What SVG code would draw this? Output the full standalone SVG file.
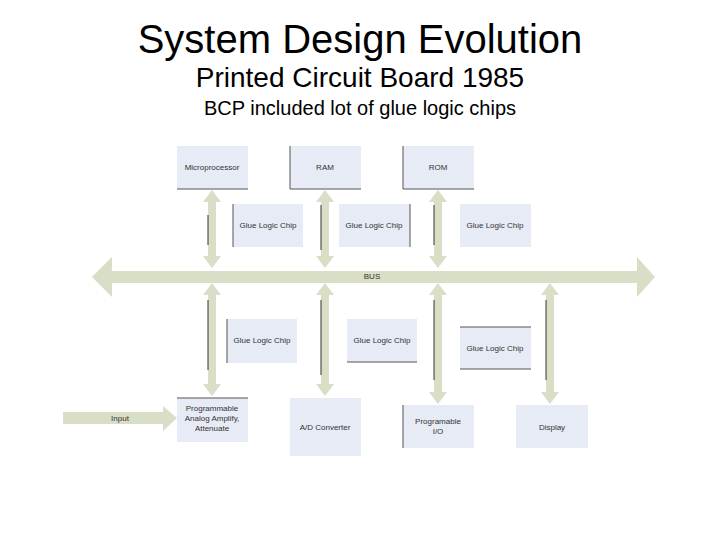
<svg xmlns="http://www.w3.org/2000/svg" width="720" height="540" viewBox="0 0 720 540">
<style>
.t{font-family:"Liberation Sans",Arial,sans-serif;fill:#000;text-anchor:middle}
.box{fill:#e6ebf5}
.edge{stroke:#555;stroke-width:1}
.lbl{font-family:"Liberation Sans",Arial,sans-serif;font-size:8px;fill:#333;text-anchor:middle}
.arr{fill:#d9dec6}
.sh{stroke:#333;stroke-width:1}
</style>
<rect width="720" height="540" fill="#fff"/>
<text class="t" x="360" y="53" font-size="40">System Design Evolution</text>
<text class="t" x="360" y="87" font-size="28">Printed Circuit Board 1985</text>
<text class="t" x="360" y="115" font-size="20">BCP included lot of glue logic chips</text>

<g id="connectors">
  <polygon id="bus" class="arr" points="92,277 112,257 112,271 637,271 637,257 655,277 637,297 637,283 112,283 112,297"/>
  <text class="lbl" x="372" y="279">BUS</text>
  <polygon class="arr" points="212,190 221,202 216,202 216,256 221,256 212,268 203,256 208,256 208,202 203,202"/>
  <line class="sh" x1="208" y1="215" x2="208" y2="245"/>
  <polygon class="arr" points="325,190 334,202 329,202 329,256 334,256 325,268 316,256 321,256 321,202 316,202"/>
  <line class="sh" x1="321" y1="205" x2="321" y2="250"/>
  <polygon class="arr" points="438,190 447,202 442,202 442,256 447,256 438,268 429,256 434,256 434,202 429,202"/>
  <line class="sh" x1="434" y1="205" x2="434" y2="245"/>
  <polygon class="arr" points="212,283 221,295 216,295 216,384 221,384 212,396 203,384 208,384 208,295 203,295"/>
  <line class="sh" x1="208" y1="300" x2="208" y2="370"/>
  <polygon class="arr" points="325,283 334,295 329,295 329,384 334,384 325,396 316,384 321,384 321,295 316,295"/>
  <line class="sh" x1="321" y1="300" x2="321" y2="375"/>
  <polygon class="arr" points="438,283 447,295 442,295 442,392 447,392 438,404 429,392 434,392 434,295 429,295"/>
  <line class="sh" x1="434" y1="300" x2="434" y2="380"/>
  <polygon class="arr" points="550,283 559,295 554,295 554,392 559,392 550,404 541,392 546,392 546,295 541,295"/>
  <line class="sh" x1="546" y1="300" x2="546" y2="380"/>
  <polygon class="arr" points="63,412 163,412 163,406 177,418 163,431 163,424 63,424"/>
  <text class="lbl" x="120" y="421">Input</text>
</g>

<g id="microprocessor"><rect class="box" x="177" y="146" width="71" height="43"/><line class="edge" x1="177" y1="189" x2="248" y2="189"/><text class="lbl" x="212" y="170">Microprocessor</text></g>
<g id="ram"><rect class="box" x="290" y="146" width="71" height="43"/><line class="edge" x1="290" y1="146" x2="290" y2="189"/><line class="edge" x1="290" y1="189" x2="361" y2="189"/><text class="lbl" x="325" y="170">RAM</text></g>
<g id="rom"><rect class="box" x="403" y="146" width="71" height="43"/><line class="edge" x1="403" y1="146" x2="403" y2="189"/><line class="edge" x1="403" y1="189" x2="474" y2="189"/><text class="lbl" x="438" y="170">ROM</text></g>

<g id="glue1"><rect class="box" x="233" y="204" width="70" height="43"/><line class="edge" x1="233" y1="204" x2="233" y2="247"/><text class="lbl" x="268" y="228">Glue Logic Chip</text></g>
<g id="glue2"><rect class="box" x="339" y="204" width="71" height="43"/><line class="edge" x1="410" y1="204" x2="410" y2="247"/><text class="lbl" x="374" y="228">Glue Logic Chip</text></g>
<g id="glue3"><rect class="box" x="460" y="204" width="71" height="43"/><text class="lbl" x="495" y="228">Glue Logic Chip</text></g>

<g id="glue4"><rect class="box" x="227" y="319" width="70" height="44"/><line class="edge" x1="227" y1="319" x2="227" y2="363"/><text class="lbl" x="262" y="343">Glue Logic Chip</text></g>
<g id="glue5"><rect class="box" x="347" y="319" width="70" height="43"/><line class="edge" x1="347" y1="362" x2="417" y2="362"/><text class="lbl" x="382" y="343">Glue Logic Chip</text></g>
<g id="glue6"><rect class="box" x="460" y="327" width="71" height="42"/><line class="edge" x1="460" y1="327" x2="531" y2="327"/><line class="edge" x1="460" y1="369" x2="531" y2="369"/><text class="lbl" x="495" y="351">Glue Logic Chip</text></g>

<g id="amp"><rect class="box" x="177" y="398" width="71" height="44"/><line class="edge" x1="177" y1="398" x2="248" y2="398"/><text class="lbl" x="212" y="411">Programmable</text><text class="lbl" x="212" y="421">Analog Amplify,</text><text class="lbl" x="212" y="431">Attenuate</text></g>
<g id="adc"><rect class="box" x="290" y="398" width="71" height="58"/><text class="lbl" x="325" y="430">A/D Converter</text></g>
<g id="pio"><rect class="box" x="403" y="405" width="71" height="43"/><line class="edge" x1="403" y1="405" x2="403" y2="448"/><text class="lbl" x="438" y="424">Programable</text><text class="lbl" x="438" y="434">I/O</text></g>
<g id="display"><rect class="box" x="516" y="405" width="72" height="43"/><text class="lbl" x="552" y="430">Display</text></g>
</svg>
